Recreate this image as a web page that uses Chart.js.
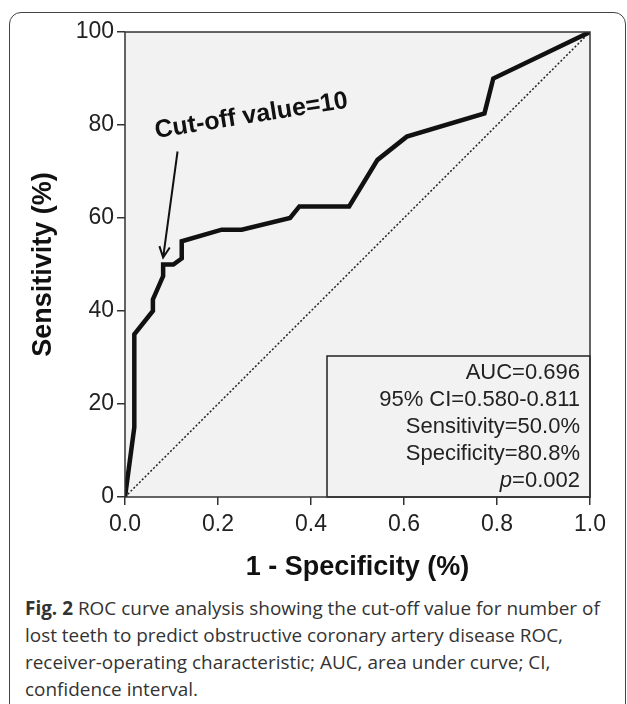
<!DOCTYPE html>
<html>
<head>
<meta charset="utf-8">
<script src="https://cdn.jsdelivr.net/npm/chart.js@4.4.0/dist/chart.umd.min.js"></script>
<style>
  body { margin: 0; background: #fff; width: 627px; height: 704px; overflow: hidden; position: relative; }
  #card { position: absolute; left: 9px; top: 12px; width: 617px; height: 760px; box-sizing: border-box; border: 1.5px solid #444; border-radius: 12px; }
  #wrap { position: absolute; left: 0; top: 0; width: 627px; height: 584px; }
  #caption { position: absolute; left: 25px; top: 597px; font-family: "Open Sans", sans-serif; font-size: 19px; color: #333; transform-origin: 0 0; }
  #caption div { white-space: nowrap; height: 27px; line-height: 22px; }
</style>
</head>
<body>
<div id="card"></div>
<div id="wrap"><canvas id="roc" width="627" height="584"></canvas></div>
<div id="caption">
  <div id="line1"><b>Fig. 2</b> ROC curve analysis showing the cut-off value for number of</div>
  <div>lost teeth to predict obstructive coronary artery disease ROC,</div>
  <div>receiver-operating characteristic; AUC, area under curve; CI,</div>
  <div>confidence interval.</div>
</div>
<script>
  // ROC curve
  var fpr = [0, 0.02, 0.02, 0.06, 0.06, 0.082, 0.082, 0.104, 0.122, 0.122, 0.208, 0.251, 0.355, 0.375, 0.482, 0.543, 0.606, 0.773, 0.792, 1.0];
  var sens = [0, 15, 35, 40, 42.5, 47.5, 50, 50, 51.3, 55, 57.5, 57.5, 60, 62.5, 62.5, 72.5, 77.5, 82.5, 90, 100];
  var refX = [0, 1];
  var refY = [0, 100];
  var statLines = ["AUC=0.696", "95% CI=0.580-0.811", "Sensitivity=50.0%", "Specificity=80.8%", "=0.002"];
  var cutoffLabel = "Cut-off value=10";
  var cutoffPoint = [0.082, 51.5];
  var arrowStart = [0.113, 74.3];
  var labelAnchor = [0.0667, 77.2];

  var fontFam = '"Liberation Sans", Arial, sans-serif';

  function toPoints(xs, ys){
    return xs.map(function(x, i){ return {x: x, y: ys[i]}; });
  }

  // background, frame, stats box and the cut-off note
  var extras = {
    id: 'extras',
    beforeDatasetsDraw: function(chart){
      var ctx = chart.ctx, a = chart.chartArea;
      ctx.save();
      ctx.fillStyle = '#f2f2f2';
      ctx.fillRect(a.left, a.top, a.right - a.left, a.bottom - a.top);
      ctx.restore();
    },
    afterDatasetsDraw: function(chart){
      var ctx = chart.ctx, a = chart.chartArea;
      var xs = chart.scales.x, ys = chart.scales.y;
      ctx.save();
      // stats box
      var boxL = 327, boxT = 356;
      ctx.fillStyle = '#f2f2f2';
      ctx.fillRect(boxL, boxT, a.right - boxL, a.bottom - boxT);
      ctx.strokeStyle = '#222';
      ctx.lineWidth = 1.5;
      ctx.strokeRect(boxL, boxT, a.right - boxL, a.bottom - boxT);
      ctx.fillStyle = '#222';
      ctx.font = '22px ' + fontFam;
      ctx.textAlign = 'right';
      ctx.textBaseline = 'alphabetic';
      for (var i = 0; i < statLines.length; i++) {
        ctx.fillText(statLines[i], 580, 379 + i * 27);
      }
      var w = ctx.measureText(statLines[4]).width;
      ctx.font = 'italic 22px ' + fontFam;
      ctx.fillText('p', 580 - w, 379 + 4 * 27);

      // frame
      ctx.strokeStyle = '#333';
      ctx.lineWidth = 1.5;
      ctx.strokeRect(a.left, a.top, a.right - a.left, a.bottom - a.top);

      // cut-off label
      var lx = xs.getPixelForValue(labelAnchor[0]), ly = ys.getPixelForValue(labelAnchor[1]);
      ctx.translate(lx, ly);
      ctx.rotate(-9 * Math.PI / 180);
      ctx.font = 'bold 25px ' + fontFam;
      ctx.textAlign = 'left';
      ctx.fillStyle = '#111';
      ctx.fillText(cutoffLabel, 0, 0);
      ctx.setTransform(1, 0, 0, 1, 0, 0);

      // arrow
      var x0 = xs.getPixelForValue(arrowStart[0]), y0 = ys.getPixelForValue(arrowStart[1]);
      var x1 = xs.getPixelForValue(cutoffPoint[0]), y1 = ys.getPixelForValue(cutoffPoint[1]);
      var ang = Math.atan2(y1 - y0, x1 - x0);
      ctx.strokeStyle = '#111';
      ctx.lineWidth = 2;
      ctx.beginPath();
      ctx.moveTo(x0, y0);
      ctx.lineTo(x1, y1);
      ctx.moveTo(x1 - 12 * Math.cos(ang - 0.45), y1 - 12 * Math.sin(ang - 0.45));
      ctx.lineTo(x1, y1);
      ctx.lineTo(x1 - 12 * Math.cos(ang + 0.45), y1 - 12 * Math.sin(ang + 0.45));
      ctx.stroke();
      ctx.restore();
    }
  };

  var ctx = document.getElementById('roc').getContext('2d');
  var rocChart = new Chart(ctx, {
    type: 'scatter',
    data: {
      datasets: [{
        data: toPoints(fpr, sens),
        showLine: true,
        borderColor: '#111',
        borderWidth: 4.5,
        pointRadius: 0,
        tension: 0,
        borderJoinStyle: 'miter'
      }, {
        data: toPoints(refX, refY),
        showLine: true,
        borderColor: '#222',
        borderWidth: 1.5,
        borderDash: [2, 2],
        pointRadius: 0
      }]
    },
    options: {
      responsive: false,
      animation: false,
      layout: { padding: { left: 0, right: 37, top: 32, bottom: 0 } },
      plugins: { legend: { display: false }, tooltip: { enabled: false } },
      scales: {
        x: {
          type: 'linear', min: 0, max: 1,
          afterFit: function(s){ s.height = 87; },
          ticks: { stepSize: 0.2, color: '#222', padding: 6, font: { family: fontFam, size: 23 },
            callback: function(v){ return v.toFixed(1); } },
          grid: { display: true, drawOnChartArea: false, drawTicks: true, tickLength: 8, color: '#333', lineWidth: 1.5 },
          border: { display: false },
          title: { display: true, text: '1 - Specificity (%)', color: '#111', padding: { top: 0, bottom: 0 },
            font: { family: fontFam, size: 27, weight: 'bold' } }
        },
        y: {
          type: 'linear', min: 0, max: 100,
          afterFit: function(s){ s.width = 125; },
          ticks: { stepSize: 20, color: '#222', padding: 3, font: { family: fontFam, size: 23 } },
          grid: { display: true, drawOnChartArea: false, drawTicks: true, tickLength: 8, color: '#333', lineWidth: 1.5 },
          border: { display: false },
          title: { display: true, text: 'Sensitivity (%)', color: '#111', padding: { top: 27, bottom: 0 },
            font: { family: fontFam, size: 27, weight: 'bold' } }
        }
      }
    },
    plugins: [extras]
  });

  // squeeze the caption so line 1 spans like the original
  var cap = document.getElementById('caption');
  var l1 = document.getElementById('line1');
  var s = 575 / l1.scrollWidth;
  cap.style.transform = 'scaleX(' + s + ')';
</script>
</body>
</html>
